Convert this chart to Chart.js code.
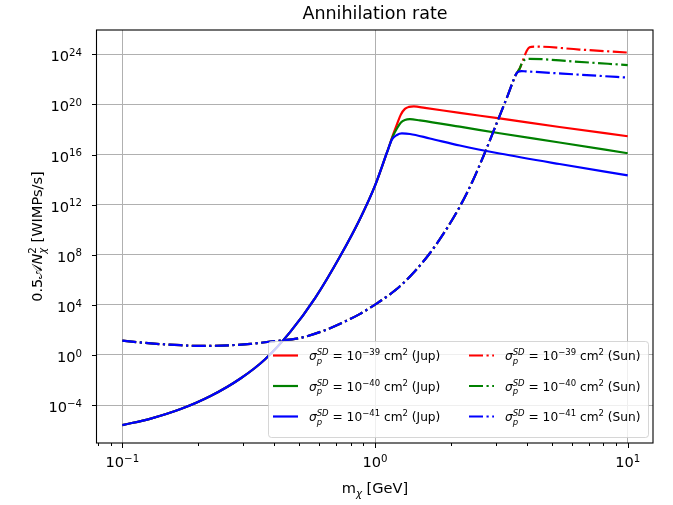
<!DOCTYPE html>
<html>
<head>
<meta charset="utf-8">
<script src="https://cdn.jsdelivr.net/npm/chart.js@4.4.0/dist/chart.umd.min.js"></script>
<style>
  html, body { margin: 0; padding: 0; background: #fff; }
  canvas { display: block; }
</style>
</head>
<body>
<canvas id="rateChart" width="673" height="505"></canvas>
<script>
// Jupiter: shared rising part (all three cross sections overlap here)
const massJupRise = [0.1, 0.1296, 0.1702, 0.2234, 0.2934, 0.3683, 0.462, 0.58, 0.7276, 0.8726, 1.0, 1.115];
const rateJupRise = [2.51e-6, 8.32e-6, 4.79e-5, 5.25e-4, 1.32e-2, 0.479, 69.2, 3.63e4, 7.59e7, 7.59e10, 3.31e13, 1.45e16];

// Jupiter: after the curves split
const massJup39 = [1.178, 1.221, 1.266, 1.313, 1.362, 1.425, 1.575, 2.165, 3.112, 5.37, 10];
const rateJup39 = [3.63e17, 2.51e18, 1.58e19, 4.37e19, 6.31e19, 6.92e19, 5.25e19, 2.09e19, 7.59e18, 1.58e18, 2.88e17];
const massJup40 = [1.178, 1.221, 1.266, 1.313, 1.374, 1.505, 2.165, 3.112, 5.37, 10];
const rateJup40 = [3.02e17, 1.2e18, 3.63e18, 5.75e18, 6.61e18, 5.25e18, 1.66e18, 5.01e17, 9.12e16, 1.26e16];
const massJup41 = [1.167, 1.221, 1.278, 1.374, 1.648, 2.165, 3.112, 5.37, 10];
const rateJup41 = [1.58e17, 3.63e17, 4.79e17, 4.37e17, 1.91e17, 5.25e16, 1.2e16, 1.74e15, 2.19e14];

// Sun: shared part
const massSunRise = [0.1, 0.1296, 0.1702, 0.204, 0.2679, 0.3213, 0.3853, 0.5058, 0.6236, 0.7478, 0.8726, 1.018, 1.146, 1.255, 1.438, 1.648, 1.889, 2.165, 2.414, 2.692, 3.001, 3.347, 3.622];
const rateSunRise = [13.9, 8.32, 5.97, 5.25, 5.97, 7.59, 11.6, 22.9, 83.2, 398, 1.91e3, 1.32e4, 6.92e4, 3.02e5, 4.79e6, 1.32e8, 6.92e9, 6.92e11, 5.25e13, 8.32e15, 1.91e18, 4.79e20, 2.75e22];

// Sun: after the curves split
const massSun39 = [3.733, 3.87, 3.977, 4.088, 4.278, 6.437, 10];
const rateSun39 = [6.92e22, 4.37e23, 1.74e24, 3.63e24, 4.17e24, 2.4e24, 1.38e24];
const massSun40 = [3.733, 3.802, 3.906, 4.088, 6.15, 10];
const rateSun40 = [6.92e22, 1.74e23, 3.63e23, 4.37e23, 2.63e23, 1.38e23];
const massSun41 = [3.683, 3.802, 3.942, 6.15, 10];
const rateSun41 = [3.98e22, 4.57e22, 4.37e22, 2.51e22, 1.38e22];

const sigmaExp = ['\u221239', '\u221240', '\u221241'];
const bodies = ['Jup', 'Sun'];
const colors = ['red', 'green', 'blue'];

const xTicks = [0.1, 1, 10];
const xTickExp = ['\u22121', '0', '1'];
const yTicks = [1e-4, 1, 1e4, 1e8, 1e12, 1e16, 1e20, 1e24];
const yTickExp = ['\u22124', '0', '4', '8', '12', '16', '20', '24'];

const FONT = '"DejaVu Sans", sans-serif';
const dashDot = [14, 3.5, 2.2, 3.5];

function toPoints(xs, ys) {
    return xs.map((x, i) => ({ x: x, y: ys[i] }));
}

const series = [
    toPoints(massJupRise, rateJupRise).concat(toPoints(massJup39, rateJup39)),
    toPoints(massJupRise, rateJupRise).concat(toPoints(massJup40, rateJup40)),
    toPoints(massJupRise, rateJupRise).concat(toPoints(massJup41, rateJup41)),
    toPoints(massSunRise, rateSunRise).concat(toPoints(massSun39, rateSun39)),
    toPoints(massSunRise, rateSunRise).concat(toPoints(massSun40, rateSun40)),
    toPoints(massSunRise, rateSunRise).concat(toPoints(massSun41, rateSun41))
];

const datasets = series.map((pts, i) => ({
    label: bodies[Math.floor(i / 3)] + ' ' + sigmaExp[i % 3],
    data: pts,
    borderColor: colors[i % 3],
    backgroundColor: colors[i % 3],
    borderWidth: 2.2,
    borderDash: i < 3 ? [] : dashDot,
    pointRadius: 0,
    fill: false,
    cubicInterpolationMode: 'monotone',
    order: 5 - i
}));

// draw a string made of pieces with different size / offset (sub- and superscripts)
function drawMath(ctx, segs, x, y, align) {
    let w = 0;
    segs.forEach(s => {
        ctx.font = (s.it ? 'italic ' : '') + s.size + 'px ' + FONT;
        if (s.adv !== false) w += ctx.measureText(s.t).width;
    });
    let cx = align === 'center' ? x - w / 2 : align === 'right' ? x - w : x;
    ctx.textAlign = 'left';
    ctx.textBaseline = 'alphabetic';
    segs.forEach(s => {
        ctx.font = (s.it ? 'italic ' : '') + s.size + 'px ' + FONT;
        ctx.fillText(s.t, cx, y + (s.dy || 0));
        if (s.adv !== false) cx += ctx.measureText(s.t).width;
    });
}

const decorations = {
    id: 'decorations',
    afterDatasetsDraw(chart) {
        const ctx = chart.ctx;
        const a = chart.chartArea;
        const xs = chart.scales.x, ys = chart.scales.y;
        ctx.save();
        ctx.fillStyle = '#000';
        ctx.strokeStyle = '#000';

        // frame
        ctx.lineWidth = 1.1;
        ctx.strokeRect(a.left - 0.5, a.top, a.right - a.left + 0.5, a.bottom - a.top);

        // x ticks (major + minor) and y ticks
        ctx.lineWidth = 1;
        ctx.beginPath();
        xTicks.forEach(v => {
            const px = Math.round(xs.getPixelForValue(v)) + 0.5;
            ctx.moveTo(px, a.bottom); ctx.lineTo(px, a.bottom + 5);
        });
        for (let d = 0.01; d <= 10; d *= 10) {
            for (let k = 2; k <= 9; k++) {
                const v = k * d;
                if (v < xs.min || v > xs.max) continue;
                const px = Math.round(xs.getPixelForValue(v)) + 0.5;
                ctx.moveTo(px, a.bottom); ctx.lineTo(px, a.bottom + 3);
            }
        }
        yTicks.forEach(v => {
            const py = Math.round(ys.getPixelForValue(v)) + 0.5;
            ctx.moveTo(a.left, py); ctx.lineTo(a.left - 5, py);
        });
        ctx.stroke();

        // tick labels
        xTicks.forEach((v, i) => {
            const px = xs.getPixelForValue(v);
            drawMath(ctx, [
                { t: '10', size: 14.6 },
                { t: xTickExp[i], size: 10.2, dy: -5.3 }
            ], px, a.bottom + 24, 'center');
        });
        yTicks.forEach((v, i) => {
            const py = ys.getPixelForValue(v);
            drawMath(ctx, [
                { t: '10', size: 14.6 },
                { t: yTickExp[i], size: 10.2, dy: -5.3 }
            ], a.left - 15, py + 7, 'right');
        });

        // axis labels
        drawMath(ctx, [
            { t: 'm', size: 14.6 },
            { t: '\u03c7', size: 10.2, it: true, dy: 3.5 },
            { t: ' [GeV]', size: 14.6 }
        ], (a.left + a.right) / 2, 493, 'center');

        ctx.save();
        ctx.translate(42, (a.top + a.bottom) / 2);
        ctx.rotate(-Math.PI / 2);
        drawMath(ctx, [
            { t: '0.5', size: 14.6 },
            { t: '\ud835\udc9c', size: 14.6 },
            { t: 'N', size: 14.6, it: true },
            { t: '\u03c7', size: 10.2, it: true, dy: 3.5, adv: false },
            { t: '2', size: 10.2, dy: -6 },
            { t: ' [WIMPs/s]', size: 14.6 }
        ], 0, 0, 'center');
        ctx.restore();

        // title
        ctx.font = '17.5px ' + FONT;
        ctx.textAlign = 'center';
        ctx.fillText('Annihilation rate', (a.left + a.right) / 2, 19);

        // legend
        const lx = 268.5, ly = 341.5, lw = 380, lh = 96;
        ctx.beginPath();
        ctx.roundRect(lx, ly, lw, lh, 3);
        ctx.fillStyle = 'rgba(255,255,255,0.8)';
        ctx.fill();
        ctx.strokeStyle = 'rgba(204,204,204,0.8)';
        ctx.lineWidth = 1;
        ctx.stroke();

        const rowY = [355.5, 386, 416.5];
        const colX = [273, 469];
        for (let c = 0; c < 2; c++) {
            for (let r = 0; r < 3; r++) {
                const y = rowY[r];
                const x0 = colX[c];
                ctx.strokeStyle = colors[r];
                ctx.lineWidth = 2.2;
                ctx.setLineDash(c === 0 ? [] : dashDot);
                ctx.beginPath();
                ctx.moveTo(x0, y);
                ctx.lineTo(x0 + 25, y);
                ctx.stroke();
                ctx.setLineDash([]);
                ctx.fillStyle = '#000';
                drawMath(ctx, [
                    { t: '\u03c3', size: 12.2, it: true },
                    { t: 'p', size: 8.5, it: true, dy: 3.5, adv: false },
                    { t: 'SD', size: 8.5, it: true, dy: -5 },
                    { t: ' = 10', size: 12.2 },
                    { t: sigmaExp[r], size: 8.5, dy: -5 },
                    { t: ' cm', size: 12.2 },
                    { t: '2', size: 8.5, dy: -5 },
                    { t: ' (' + bodies[c] + ')', size: 12.2 }
                ], x0 + 36, y + 4.5, 'left');
            }
        }
        ctx.restore();
    }
};

new Chart(document.getElementById('rateChart').getContext('2d'), {
    type: 'line',
    data: { datasets: datasets },
    options: {
        responsive: false,
        animation: false,
        events: [],
        layout: { padding: { top: 30, right: 20, left: 0, bottom: 0 } },
        plugins: {
            legend: { display: false },
            tooltip: { enabled: false }
        },
        scales: {
            x: {
                type: 'logarithmic',
                min: 0.0794,
                max: 12.59,
                afterBuildTicks: s => { s.ticks = xTicks.map(v => ({ value: v })); },
                afterFit: s => { s.height = 62; },
                ticks: { display: false },
                grid: { color: '#b0b0b0', lineWidth: 1, drawTicks: false },
                border: { display: false }
            },
            y: {
                type: 'logarithmic',
                min: 9.33e-8,
                max: 8.71e25,
                afterBuildTicks: s => { s.ticks = yTicks.map(v => ({ value: v })); },
                afterFit: s => { s.width = 97; },
                ticks: { display: false },
                grid: { color: '#b0b0b0', lineWidth: 1, drawTicks: false },
                border: { display: false }
            }
        }
    },
    plugins: [decorations]
});
</script>
</body>
</html>
